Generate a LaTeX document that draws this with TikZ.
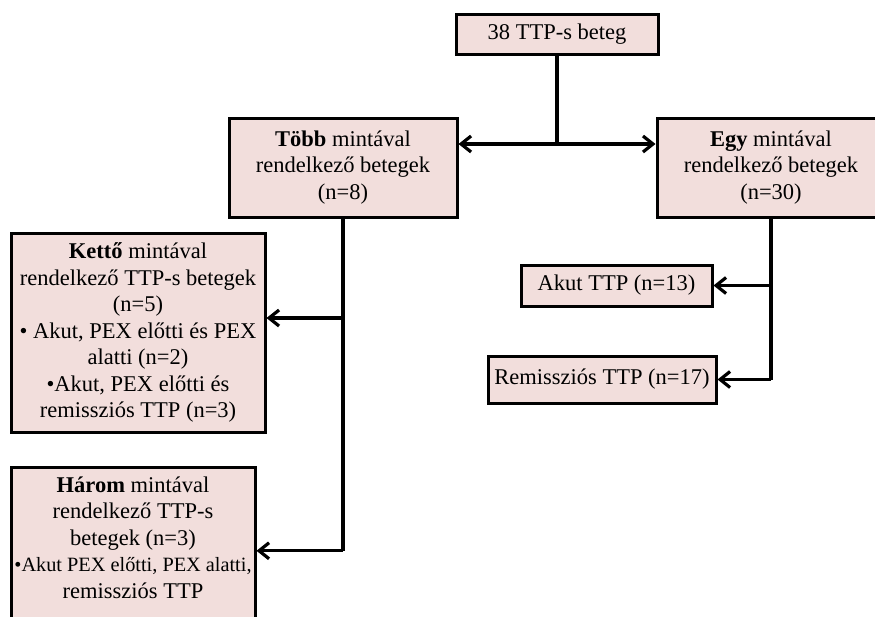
\documentclass[tikz,border=0pt]{standalone}
\usepackage{fontspec}
\setmainfont{Liberation Serif}
\usepackage{tikz}
\usepackage{xcolor}
\usetikzlibrary{positioning,arrows.meta,calc}
\definecolor{boxfill}{RGB}{242,222,220}

\begin{document}
\begin{tikzpicture}[x=1pt,y=-1pt,
    box/.style={draw=black, fill=boxfill, line width=3pt, align=center,
      inner sep=0pt, font=\fontsize{22.5}{26.5}\selectfont},
    link/.style={line width=3.2pt},
    arr/.style={line width=3.2pt, -{Straight Barb[length=10pt,width=16pt]}}]
    \useasboundingbox (0,0) rectangle (875,616);
    \clip (0,0) rectangle (875,616);

    % Top
    \node[box, minimum width=202pt, minimum height=40pt] (all) at (557,34) {38 TTP-s beteg};

    % Second level
    \node[box, minimum width=228pt, minimum height=99pt] (tobb) at (343,167.5)
      {\textbf{Több} mintával\\ rendelkező betegek\\ (n=8)};
    \node[box, minimum width=228pt, minimum height=99pt] (egy) at (771,167.5)
      {\textbf{Egy} mintával\\ rendelkező betegek\\ (n=30)};

    % Left branch
    \node[box, minimum width=254pt, minimum height=199pt] (ketto) at (138,332.5)
      {\textbf{Kettő} mintával\\ rendelkező TTP-s betegek\\ (n=5)\\
       \fontsize{22.5}{25}\selectfont • Akut, PEX előtti és PEX\\ alatti (n=2)\\ •Akut, PEX előtti és\\ remissziós TTP (n=3)};
    \node[box, minimum width=244pt, minimum height=167.5pt] (harom) at (133,550.75)
      {\textbf{Három} mintával\\ rendelkező TTP-s\\ betegek (n=3)\\
       \fontsize{20.3}{25}\selectfont •Akut PEX előtti, PEX alatti,\\ remissziós TTP\\ \mbox{}};

    % Right branch
    \node[box, minimum width=191pt, minimum height=41pt] (akut) at (616.5,285.5) {Akut TTP (n=13)};
    \node[box, minimum width=228pt, minimum height=47pt] (remis) at (602,379.5) {Remissziós TTP (n=17)};

    % Connectors
    \coordinate (split) at (557,144);
    \draw[link] (all.south) -- (split);
    \draw[arr] (split) -- (tobb.east |- split);
    \draw[arr] (split) -- (egy.west |- split);

    \draw[link] (tobb.south) -- (tobb.south |- harom.east);
    \draw[arr] (tobb.south |- harom.east) -- (harom.east);
    \draw[arr] ([yshift=14.5pt]tobb.south |- ketto.east) -- ([yshift=14.5pt]ketto.east);

    \draw[link] (egy.south) -- (egy.south |- remis.east);
    \draw[arr] (egy.south |- remis.east) -- (remis.east);
    \draw[arr] (egy.south |- akut.east) -- (akut.east);
\end{tikzpicture}
\end{document}
